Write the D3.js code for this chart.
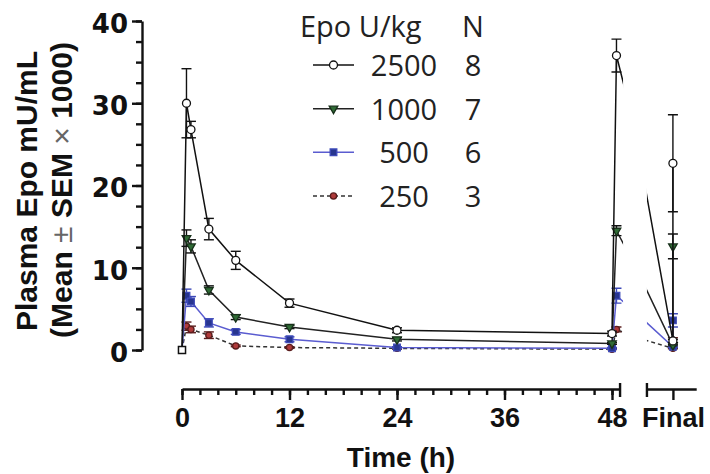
<!DOCTYPE html>
<html><head><meta charset="utf-8">
<script src="https://cdn.jsdelivr.net/npm/d3@7"></script>
<style>body{margin:0;background:#fff}svg{display:block}</style>
</head><body>
<svg id="chart" width="710" height="474"></svg>
<script>
// ---------- data ----------
const hours = [0, 0.5, 1, 3, 6, 12, 24, 48, 48.5];
const doseLabels = ["2500", "1000", "500", "250"];
const groupN = [8, 7, 6, 3];
const mean2500 = [0, 30.0, 26.8, 14.7, 10.9, 5.7, 2.4, 2.0, 35.8];
const sem2500  = [0, 4.2, 1.0, 1.3, 1.1, 0.5, 0.3, 0.3, 2.0];
const mean1000 = [0, 13.6, 12.6, 7.3, 4.0, 2.8, 1.3, 0.8, 14.5];
const sem1000  = [0, 1.0, 0.8, 0.5, 0.3, 0.2, 0.2, 0.1, 0.6];
const mean500  = [0, 6.6, 5.9, 3.3, 2.2, 1.3, 0.3, 0.2, 6.6];
const sem500   = [0, 0.8, 0.6, 0.5, 0.3, 0.3, 0.1, 0.1, 0.9];
const mean250  = [0, 2.9, 2.5, 1.8, 0.5, 0.3, 0.2, 0.1, 2.5];
const sem250   = [0, 0.5, 0.4, 0.4, 0.1, 0.1, 0.1, 0.05, 0.3];
// value the lines pass through inside the axis break (hidden)
const breakMean = [27.1, 10.4, 4.7, 1.6];
// "Final" sample: pre and post values
const finalPreMean  = [1.1, 0.6, 0.4, 0.2];
const finalPreSem   = [0.2, 0.1, 0.1, 0.05];
const finalPostMean = [22.7, 12.6, 3.6, 1.2];
const finalPostSem  = [5.9, 1.5, 0.8, 0.3];
const yTicks = [0, 10, 20, 30, 40];
const xTicks = [0, 12, 24, 36, 48];
const finalLabel = "Final";
const legendTitle = "Epo U/kg";
const legendNTitle = "N";

// broken axis positions (virtual hours)
const AXIS_END = 48.9, BREAK_T = 50.5, FINAL_START = 51.9, FINAL_T = 54.8, FINAL_END = 57.4;

const means = [mean2500, mean1000, mean500, mean250];
const sems = [sem2500, sem1000, sem500, sem250];
const styles = [
  {line:"#111", dash:null, sym:d3.symbolCircle, size:50, fill:"#fff", stroke:"#111", rot:0},
  {line:"#222", dash:null, sym:d3.symbolTriangle, size:32, fill:"#2f6b35", stroke:"#17301a", rot:180},
  {line:"#5a5cd0", dash:null, sym:d3.symbolSquare, size:44, fill:"#27358f", stroke:"#3d49b8", rot:0},
  {line:"#333", dash:"4,3", sym:d3.symbolCircle, size:30, fill:"#b03a3a", stroke:"#5a1d1d", rot:0}
];

const svg = d3.select("#chart");
const x = d3.scaleLinear().domain([0, 48]).range([182, 612]);
const y = d3.scaleLinear().domain([0, 40]).range([350, 21]);

// clip for the two x segments
const defs = svg.append("defs");
const cp = defs.append("clipPath").attr("id", "segclip");
cp.append("rect").attr("x", 0).attr("y", 0).attr("width", x(AXIS_END) + 3).attr("height", 474);
cp.append("rect").attr("x", x(FINAL_START)).attr("y", 0).attr("width", 710 - x(FINAL_START)).attr("height", 474);

// ---------- y axis ----------
const yAx = svg.append("g").attr("transform", "translate(142,0)");
yAx.call(d3.axisLeft(y).tickValues(d3.range(0, 40.01, 2.5)).tickSize(6).tickFormat("").tickSizeOuter(0));
yAx.append("g").call(d3.axisLeft(y).tickValues(yTicks).tickSize(10).tickPadding(4).tickSizeOuter(0))
  .call(g => g.select(".domain").remove());
yAx.selectAll("line,path").attr("stroke", "#111").attr("stroke-width", 2.4);
yAx.selectAll("text").attr("font-family", "DejaVu Sans").attr("font-weight", "bold")
  .attr("font-size", 26).attr("fill", "#111").attr("dy", "0.44em");

// y title
const yt = svg.append("g").attr("font-family", "Liberation Sans, Arial").attr("font-weight", "bold")
  .attr("font-size", 30).attr("fill", "#111").attr("text-anchor", "middle");
yt.append("text").attr("transform", "translate(37,191) rotate(-90)").text("Plasma Epo mU/mL");
const t2 = yt.append("text").attr("transform", "translate(72,190) rotate(-90)");
t2.append("tspan").text("(Mean ");
t2.append("tspan").attr("font-weight", "normal").attr("fill", "#666").text("±");
t2.append("tspan").text(" SEM ");
t2.append("tspan").attr("font-weight", "normal").attr("fill", "#666").text("×");
t2.append("tspan").text(" 1000)");

// ---------- x axis ----------
const xAxY = 389;
const xs1 = x.copy().domain([0, AXIS_END]).range([x(0), x(AXIS_END)]);
const xs2 = x.copy().domain([FINAL_START, FINAL_END]).range([x(FINAL_START), x(FINAL_END)]);
const xAx = svg.append("g").attr("transform", `translate(0,${xAxY})`);
xAx.append("g").call(d3.axisBottom(xs1).tickValues(d3.range(0, 48.1, 2)).tickSize(6).tickFormat("").tickSizeOuter(0));
xAx.append("g").call(d3.axisBottom(xs1).tickValues(xTicks).tickSize(11).tickPadding(8).tickSizeOuter(0))
  .call(g => g.select(".domain").remove());
xAx.append("g").call(d3.axisBottom(xs2).tickValues([FINAL_T]).tickFormat(() => finalLabel).tickSize(11).tickPadding(8).tickSizeOuter(0));
// break caps
[AXIS_END, FINAL_START].forEach(t => {
  xAx.append("line").attr("x1", x(t)).attr("x2", x(t)).attr("y1", -6).attr("y2", 8);
});
xAx.selectAll("line,path").attr("stroke", "#111").attr("stroke-width", 2.4);
xAx.selectAll("text").attr("font-family", "Liberation Sans, Arial").attr("font-weight", "bold")
  .attr("font-size", 27).attr("fill", "#111");
svg.append("text").attr("x", x(24) + 4).attr("y", 467).attr("text-anchor", "middle")
  .attr("font-family", "Liberation Sans, Arial").attr("font-weight", "bold").attr("font-size", 28)
  .attr("fill", "#111").text("Time (h)");

// ---------- series ----------
const plot = svg.append("g").attr("clip-path", "url(#segclip)");
const order = [3, 2, 1, 0];
const lineGen = d3.line().x(d => x(d.t)).y(d => y(d.v));
const symPath = (s) => d3.symbol().type(s.sym).size(s.size)();

order.forEach(i => {
  const s = styles[i];
  const pts = hours.map((t, k) => ({t, v: means[i][k], e: sems[i][k], show: k > 0}));
  pts.push({t: BREAK_T, v: breakMean[i], e: 0, show: false});
  pts.push({t: FINAL_T, v: finalPreMean[i], e: finalPreSem[i], show: true});
  pts.push({t: FINAL_T, v: finalPostMean[i], e: finalPostSem[i], show: true});
  const g = plot.append("g");
  g.append("path").datum(pts).attr("d", lineGen).attr("fill", "none")
    .attr("stroke", s.line).attr("stroke-width", 1.5).attr("stroke-dasharray", s.dash);
  const vis = pts.filter(d => d.show);
  const eb = g.selectAll(".eb").data(vis.filter(d => d.e > 0)).join("g")
    .attr("stroke", i === 2 ? "#3d49b8" : (i === 3 ? "#5a1d1d" : "#111")).attr("stroke-width", 1.4);
  eb.append("line").attr("x1", d => x(d.t)).attr("x2", d => x(d.t))
    .attr("y1", d => y(d.v - d.e)).attr("y2", d => y(d.v + d.e));
  eb.append("line").attr("x1", d => x(d.t) - 5).attr("x2", d => x(d.t) + 5)
    .attr("y1", d => y(d.v + d.e)).attr("y2", d => y(d.v + d.e));
  eb.append("line").attr("x1", d => x(d.t) - 5).attr("x2", d => x(d.t) + 5)
    .attr("y1", d => y(d.v - d.e)).attr("y2", d => y(d.v - d.e));
  g.selectAll(".mk").data(vis).join("path")
    .attr("d", symPath(s))
    .attr("transform", d => `translate(${x(d.t)},${y(d.v)}) rotate(${s.rot})`)
    .attr("fill", s.fill).attr("stroke", s.stroke).attr("stroke-width", 1.3);
});
// baseline (time 0) marker
plot.append("path").attr("d", d3.symbol().type(d3.symbolSquare).size(50)())
  .attr("transform", `translate(${x(hours[0])},${y(mean2500[0])})`)
  .attr("fill", "#fff").attr("stroke", "#111").attr("stroke-width", 1.5);

// ---------- legend ----------
const lg = svg.append("g").attr("font-family", "Open Sans").attr("font-size", 29).attr("fill", "#222");
lg.append("text").attr("x", 300).attr("y", 37).text(legendTitle);
lg.append("text").attr("x", 473).attr("y", 37).attr("text-anchor", "middle").text(legendNTitle);
const rowY = d3.scalePoint().domain(doseLabels).range([65, 196]);
doseLabels.forEach((lab, i) => {
  const s = styles[i];
  const cy = rowY(lab);
  lg.append("line").attr("x1", 313).attr("x2", 354).attr("y1", cy).attr("y2", cy)
    .attr("stroke", s.line).attr("stroke-width", 1.5).attr("stroke-dasharray", s.dash);
  lg.append("path").attr("d", symPath(s)).attr("transform", `translate(333.5,${cy}) rotate(${s.rot})`)
    .attr("fill", s.fill).attr("stroke", s.stroke).attr("stroke-width", 1.3);
  lg.append("text").attr("x", 404).attr("y", cy + 11).attr("text-anchor", "middle").text(lab);
  lg.append("text").attr("x", 473).attr("y", cy + 11).attr("text-anchor", "middle").text(groupN[i]);
});
</script>
</body></html>
